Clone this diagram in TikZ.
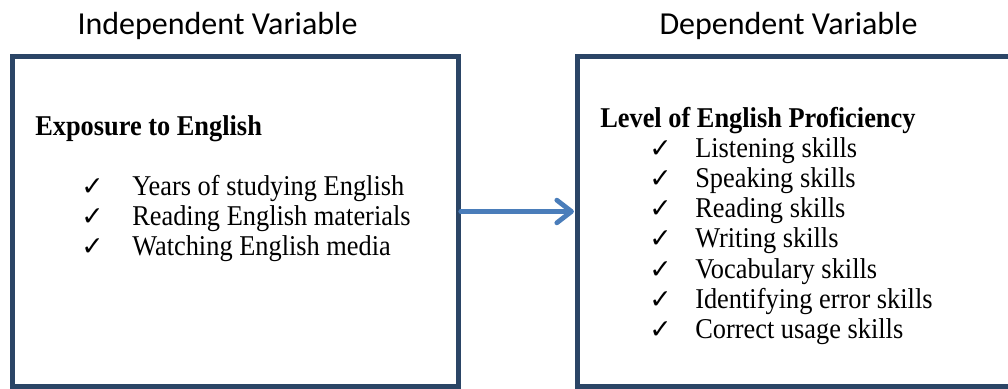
\documentclass[tikz,border=0pt]{standalone}
\usepackage{fontspec}
\setmainfont[FakeStretch=0.92]{Liberation Serif}
\newfontfamily\titlefont{Carlito}
\newfontfamily\checkfont{DejaVu Sans}
\usetikzlibrary{arrows.meta, positioning}
\definecolor{boxcolor}{rgb}{0.17, 0.27, 0.40}
\definecolor{arrowcolor}{rgb}{0.29, 0.49, 0.73}
\tikzset{varbox/.style={draw=boxcolor, line width=3.4pt, inner sep=0pt}}
\tikzset{vartitle/.style={anchor=base, inner sep=0pt, font=\titlefont\fontsize{24}{29}\selectfont}}
\tikzset{header/.style={anchor=base west, inner sep=0pt, font=\bfseries\fontsize{21.5}{26}\selectfont}}
\tikzset{item/.style={anchor=base west, inner sep=0pt, font=\fontsize{21.5}{26}\selectfont}}
\tikzset{tick/.style={anchor=base west, inner sep=0pt, font=\checkfont\fontsize{20}{24}\selectfont}}
\tikzset{flow/.style={draw=arrowcolor, line width=3.6pt, line cap=round, -{Straight Barb[length=11pt, width=17pt, line join=round, line cap=round]}}}

\begin{document}
\begin{tikzpicture}[x=0.75pt, y=-0.75pt]
	\clip (0,0) rectangle (1008,389);
	
	%%% NODES %%%
	
	% TITLES
	\node[vartitle] at (217.5,35) (indeptitle) {Independent Variable};
	\node[vartitle] at (788.5,35) (deptitle) {Dependent Variable};
	
	% BOXES
	\node[varbox, minimum width=334.5pt, minimum height=247.5pt] at (235.5,221.5) (indepbox) {};
	\node[varbox, minimum width=330pt, minimum height=247.5pt] at (797.5,221.5) (depbox) {};
	
	% EXPOSURE TO ENGLISH
	\node[header] at (35,135) (exposure) {Exposure to English};
	\node[tick] at (81,195) (tick1) {✓};
	\node[item] at (132,195) (years) {Years of studying English};
	\node[tick] at (81,225) (tick2) {✓};
	\node[item] at (132,225) (reading) {Reading English materials};
	\node[tick] at (81,255) (tick3) {✓};
	\node[item] at (132,255) (watching) {Watching English media};
	
	% ENGLISH PROFICIENCY
	\node[header] at (600,127) (proficiency) {Level of English Proficiency};
	\node[tick] at (649,157) (tick4) {✓};
	\node[item] at (695,157) (listening) {Listening skills};
	\node[tick] at (649,187.3) (tick5) {✓};
	\node[item] at (695,187.3) (speaking) {Speaking skills};
	\node[tick] at (649,217.6) (tick6) {✓};
	\node[item] at (695,217.6) (readingsk) {Reading skills};
	\node[tick] at (649,247.9) (tick7) {✓};
	\node[item] at (695,247.9) (writing) {Writing skills};
	\node[tick] at (649,278.2) (tick8) {✓};
	\node[item] at (695,278.2) (vocabulary) {Vocabulary skills};
	\node[tick] at (649,308.5) (tick9) {✓};
	\node[item] at (695,308.5) (identifying) {Identifying error skills};
	\node[tick] at (649,338.8) (tick10) {✓};
	\node[item] at (695,338.8) (usage) {Correct usage skills};
	
	%%% ARROWS %%%
	\draw[flow] ([yshift=7.5pt]indepbox.east) -- ([yshift=7.5pt, xshift=-1pt]depbox.west);
	
\end{tikzpicture}
\end{document}
